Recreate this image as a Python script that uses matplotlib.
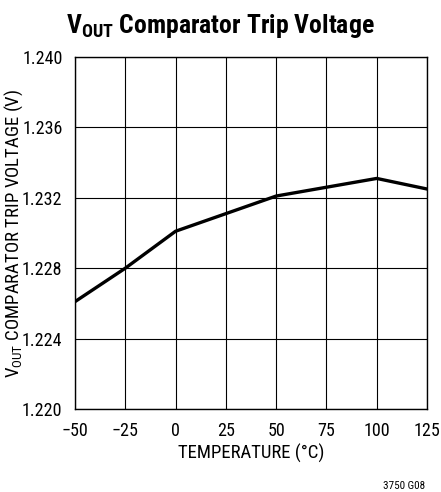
import matplotlib
matplotlib.use("Agg")
import matplotlib.pyplot as plt
from matplotlib import font_manager

# temperatura (°C) e tensao de disparo do comparador (V)
temp_c = [-50, -25, 0, 25, 50, 75, 100, 125]
trip_v = [1.2261, 1.2280, 1.2301, 1.2311, 1.2321, 1.2326, 1.2331, 1.2325]

x_ticks = [-50, -25, 0, 25, 50, 75, 100, 125]
x_labels = ["\u221250", "\u221225", "0", "25", "50", "75", "100", "125"]
y_ticks = [1.220, 1.224, 1.228, 1.232, 1.236, 1.240]

# fonte estreita se houver; senão Liberation Sans (métrica Arial)
installed = {f.name for f in font_manager.fontManager.ttflist}
font = next((f for f in ["Liberation Sans Narrow", "Roboto Condensed",
                         "Liberation Sans"] if f in installed), "DejaVu Sans")
narrow = "Narrow" in font or "Condensed" in font
k = 1.0 if narrow else 0.88

plt.rcParams["font.family"] = [font, "DejaVu Sans"]
plt.rcParams["mathtext.fontset"] = "custom"
plt.rcParams["mathtext.rm"] = font
plt.rcParams["mathtext.bf"] = font + ":bold"

fig = plt.figure(figsize=(4.41, 4.92), dpi=100)
ax = fig.add_axes([75 / 441, 1 - 409 / 492, 352 / 441, 352 / 492])

ax.plot(temp_c, trip_v, color="black", lw=2.4, solid_joinstyle="round")

ax.set_xlim(-50, 125)
ax.set_ylim(1.220, 1.240)
ax.set_xticks(x_ticks)
ax.set_xticklabels(x_labels)
ax.set_yticks(y_ticks)
ax.set_yticklabels([f"{v:.3f}" for v in y_ticks])
ax.tick_params(length=0, labelsize=13 * k, colors="black")
ax.tick_params(axis="x", pad=9)
ax.tick_params(axis="y", pad=9)
ax.grid(True, color="black", lw=0.8)
for s in ax.spines.values():
    s.set_linewidth(1.0)

ax.set_xlabel("TEMPERATURE (\u00b0C)", fontsize=13.5 * k, labelpad=3)
ax.set_ylabel(r"V$_\mathregular{OUT}$ COMPARATOR TRIP VOLTAGE (V)",
              fontsize=13.5 * k, labelpad=-2)

fig.text(0.5, 1 - 26 / 492, r"V$_\mathbf{OUT}$ Comparator Trip Voltage",
         ha="center", va="center", fontsize=18.5 * k, fontweight="bold")
fig.text(425 / 441, 1 - 486 / 492, "3750 G08", ha="right", va="center",
         fontsize=8 * k)

fig.savefig("out.png", dpi=100)
